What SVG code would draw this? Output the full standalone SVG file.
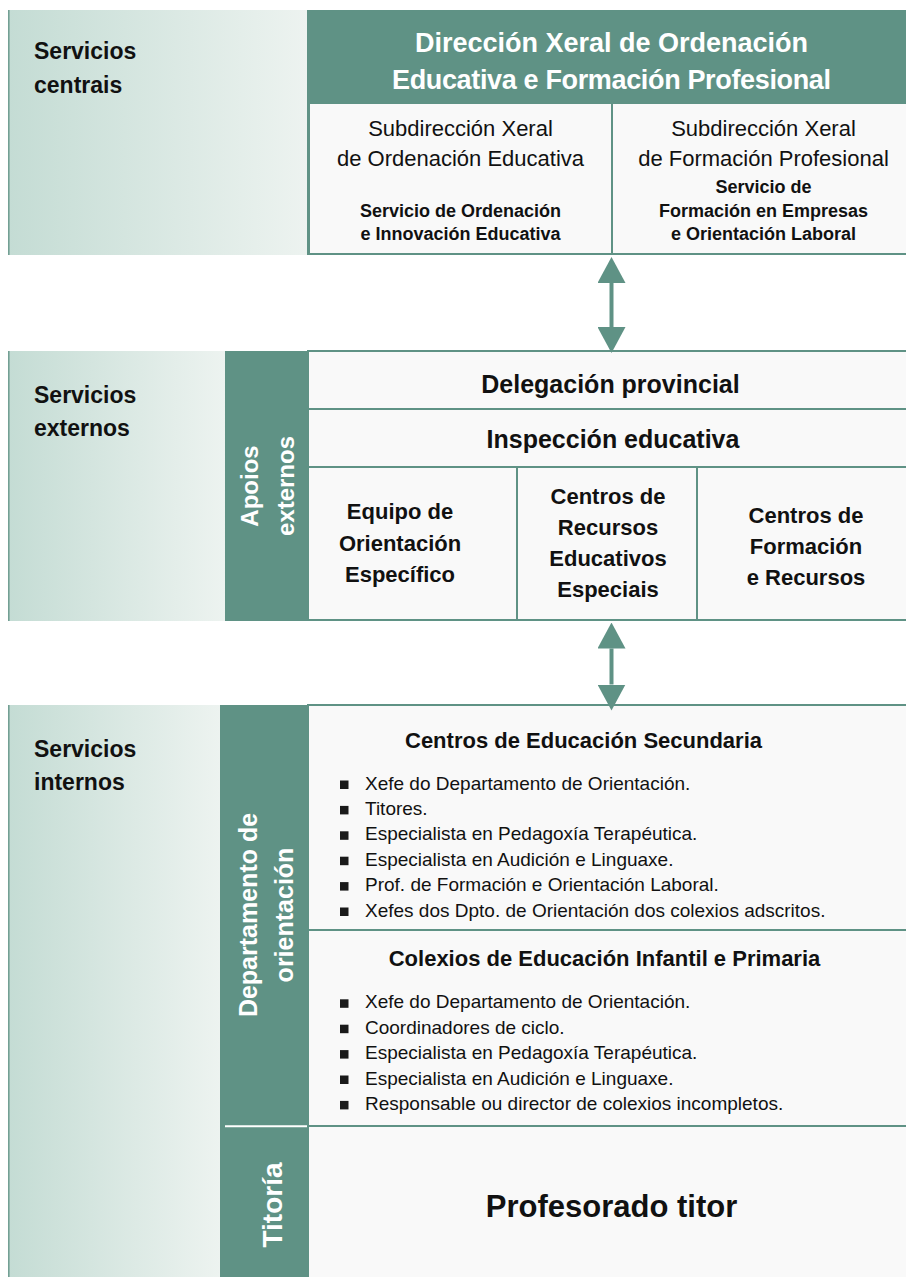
<svg xmlns="http://www.w3.org/2000/svg" width="906" height="1277" viewBox="0 0 906 1277">
<defs>
<linearGradient id="grad" x1="0" y1="0" x2="1" y2="0">
<stop offset="0" stop-color="#c4dcd4"/>
<stop offset="1" stop-color="#edf3f0"/>
</linearGradient>
<marker id="ah" viewBox="0 0 26 28" refX="0" refY="14" markerWidth="26" markerHeight="28" markerUnits="userSpaceOnUse" orient="auto-start-reverse">
<path d="M0,0 L26,14 L0,28 Z" fill="#5f9285"/>
</marker>
<style>
.panel{fill:url(#grad)}
.edge{stroke:#73a094;stroke-width:1.6}
.g{fill:#5f9285}
.w{fill:#f9f9f9}
.box{fill:#f9f9f9;stroke:#5f9285;stroke-width:2}
text{font-family:"Liberation Sans",Arial,sans-serif;fill:#111}
.lbl{font-size:23px;font-weight:bold}
.hdr{font-size:27px;font-weight:bold;fill:#fff;text-anchor:middle}
.sub{font-size:22px;text-anchor:middle}
.sm{font-size:18px;font-weight:bold;text-anchor:middle}
.big{font-size:25px;font-weight:bold;text-anchor:middle}
.cell{font-size:22px;font-weight:bold;text-anchor:middle}
.vt{font-weight:bold;fill:#fff;text-anchor:middle}
.li{font-size:19px}
.bul{fill:#1a1a1a}
.conn{stroke:#5f9285;stroke-width:4;fill:none;marker-start:url(#ah);marker-end:url(#ah)}
</style>
</defs>

<!-- Servicios centrais -->
<g id="sec-centrais">
<rect class="panel" x="8" y="10" width="299" height="245"/>
<line class="edge" x1="8.8" y1="10" x2="8.8" y2="255"/>
<text class="lbl" x="34" y="59">Servicios</text>
<text class="lbl" x="34" y="93">centrais</text>
</g>
<g id="node-dxoefp">
<rect class="g" x="307" y="10" width="599" height="245"/>
<text class="hdr" x="611.5" y="52" textLength="393">Dirección Xeral de Ordenación</text>
<text class="hdr" x="611.5" y="89" textLength="439">Educativa e Formación Profesional</text>
</g>
<g id="node-sxoe">
<rect class="w" x="310" y="104" width="301" height="149"/>
<text class="sub" x="460.5" y="136">Subdirección Xeral</text>
<text class="sub" x="460.5" y="166">de Ordenación Educativa</text>
<text class="sm" x="460.5" y="216.5">Servicio de Ordenación</text>
<text class="sm" x="460.5" y="240">e Innovación Educativa</text>
</g>
<g id="node-sxfp">
<rect class="w" x="613" y="104" width="293" height="149"/>
<text class="sub" x="763.5" y="136">Subdirección Xeral</text>
<text class="sub" x="763.5" y="166">de Formación Profesional</text>
<text class="sm" x="763.5" y="193">Servicio de</text>
<text class="sm" x="763.5" y="216.5">Formación en Empresas</text>
<text class="sm" x="763.5" y="240">e Orientación Laboral</text>
</g>

<!-- Servicios externos -->
<g id="sec-externos">
<rect class="panel" x="8" y="351" width="217" height="270"/>
<line class="edge" x1="8.8" y1="351" x2="8.8" y2="621"/>
<text class="lbl" x="34" y="403">Servicios</text>
<text class="lbl" x="34" y="436">externos</text>
</g>
<g id="apoios-externos">
<rect class="g" x="225" y="351" width="83" height="270"/>
<text class="vt" font-size="24" transform="translate(258,486) rotate(-90)">Apoios</text>
<text class="vt" font-size="24" transform="translate(294,486) rotate(-90)">externos</text>
</g>
<g id="node-delegacion">
<rect class="box" x="308" y="351" width="600" height="58"/>
<text class="big" x="610.5" y="393">Delegación provincial</text>
</g>
<g id="node-inspeccion">
<rect class="box" x="308" y="409" width="600" height="58"/>
<text class="big" x="613" y="448">Inspección educativa</text>
</g>
<g id="node-eoe">
<rect class="box" x="308" y="467" width="209" height="153"/>
<text class="cell" x="400" y="519">Equipo de</text>
<text class="cell" x="400" y="550.5">Orientación</text>
<text class="cell" x="400" y="582">Específico</text>
</g>
<g id="node-cree">
<rect class="box" x="517" y="467" width="180" height="153"/>
<text class="cell" x="608" y="504">Centros de</text>
<text class="cell" x="608" y="535">Recursos</text>
<text class="cell" x="608" y="566">Educativos</text>
<text class="cell" x="608" y="597">Especiais</text>
</g>
<g id="node-cfr">
<rect class="box" x="697" y="467" width="211" height="153"/>
<text class="cell" x="806" y="523">Centros de</text>
<text class="cell" x="806" y="554">Formación</text>
<text class="cell" x="806" y="585">e Recursos</text>
</g>

<!-- Servicios internos -->
<g id="sec-internos">
<rect class="panel" x="8" y="705" width="212" height="572"/>
<line class="edge" x1="8.8" y1="705" x2="8.8" y2="1277"/>
<text class="lbl" x="34" y="757">Servicios</text>
<text class="lbl" x="34" y="790">internos</text>
</g>
<g id="dpto-orientacion">
<rect class="g" x="220" y="705" width="88" height="421"/>
<text class="vt" font-size="25" transform="translate(257,915) rotate(-90)">Departamento de</text>
<text class="vt" font-size="25" transform="translate(293,915) rotate(-90)">orientación</text>
</g>
<g id="titoria">
<rect class="g" x="220" y="1126" width="88" height="151"/>
<line x1="225" y1="1126.3" x2="307" y2="1126.3" stroke="#ffffff" stroke-width="2"/>
<text class="vt" font-size="28" transform="translate(282,1205) rotate(-90)">Titoría</text>
</g>
<g id="node-ces">
<rect class="box" x="308" y="705" width="600" height="225"/>
<text class="cell" x="583.5" y="748">Centros de Educación Secundaria</text>
<rect class="bul" x="340" y="780.5" width="8.5" height="8.5"/>
<text class="li" x="365" y="789.5">Xefe do Departamento de Orientación.</text>
<rect class="bul" x="340" y="805.9" width="8.5" height="8.5"/>
<text class="li" x="365" y="814.9">Titores.</text>
<rect class="bul" x="340" y="831.3" width="8.5" height="8.5"/>
<text class="li" x="365" y="840.3">Especialista en Pedagoxía Terapéutica.</text>
<rect class="bul" x="340" y="856.7" width="8.5" height="8.5"/>
<text class="li" x="365" y="865.7">Especialista en Audición e Linguaxe.</text>
<rect class="bul" x="340" y="882.1" width="8.5" height="8.5"/>
<text class="li" x="365" y="891.1">Prof. de Formación e Orientación Laboral.</text>
<rect class="bul" x="340" y="907.5" width="8.5" height="8.5"/>
<text class="li" x="365" y="916.5">Xefes dos Dpto. de Orientación dos colexios adscritos.</text>
</g>
<g id="node-ceip">
<rect class="box" x="308" y="930" width="600" height="196"/>
<text class="cell" x="604.5" y="966">Colexios de Educación Infantil e Primaria</text>
<rect class="bul" x="340" y="999.3" width="8.5" height="8.5"/>
<text class="li" x="365" y="1008.3">Xefe do Departamento de Orientación.</text>
<rect class="bul" x="340" y="1024.7" width="8.5" height="8.5"/>
<text class="li" x="365" y="1033.7">Coordinadores de ciclo.</text>
<rect class="bul" x="340" y="1050.1" width="8.5" height="8.5"/>
<text class="li" x="365" y="1059.1">Especialista en Pedagoxía Terapéutica.</text>
<rect class="bul" x="340" y="1075.5" width="8.5" height="8.5"/>
<text class="li" x="365" y="1084.5">Especialista en Audición e Linguaxe.</text>
<rect class="bul" x="340" y="1100.9" width="8.5" height="8.5"/>
<text class="li" x="365" y="1109.9">Responsable ou director de colexios incompletos.</text>
</g>
<g id="node-profesorado">
<rect class="box" x="308" y="1126" width="600" height="153"/>
<text x="611.5" y="1217" font-size="31" font-weight="bold" text-anchor="middle">Profesorado titor</text>
</g>

<!-- Connectors -->
<g id="connectors">
<line class="conn" x1="611.5" y1="283" x2="611.5" y2="327"/>
<line class="conn" x1="611.5" y1="648.5" x2="611.5" y2="684.5"/>
</g>
</svg>
